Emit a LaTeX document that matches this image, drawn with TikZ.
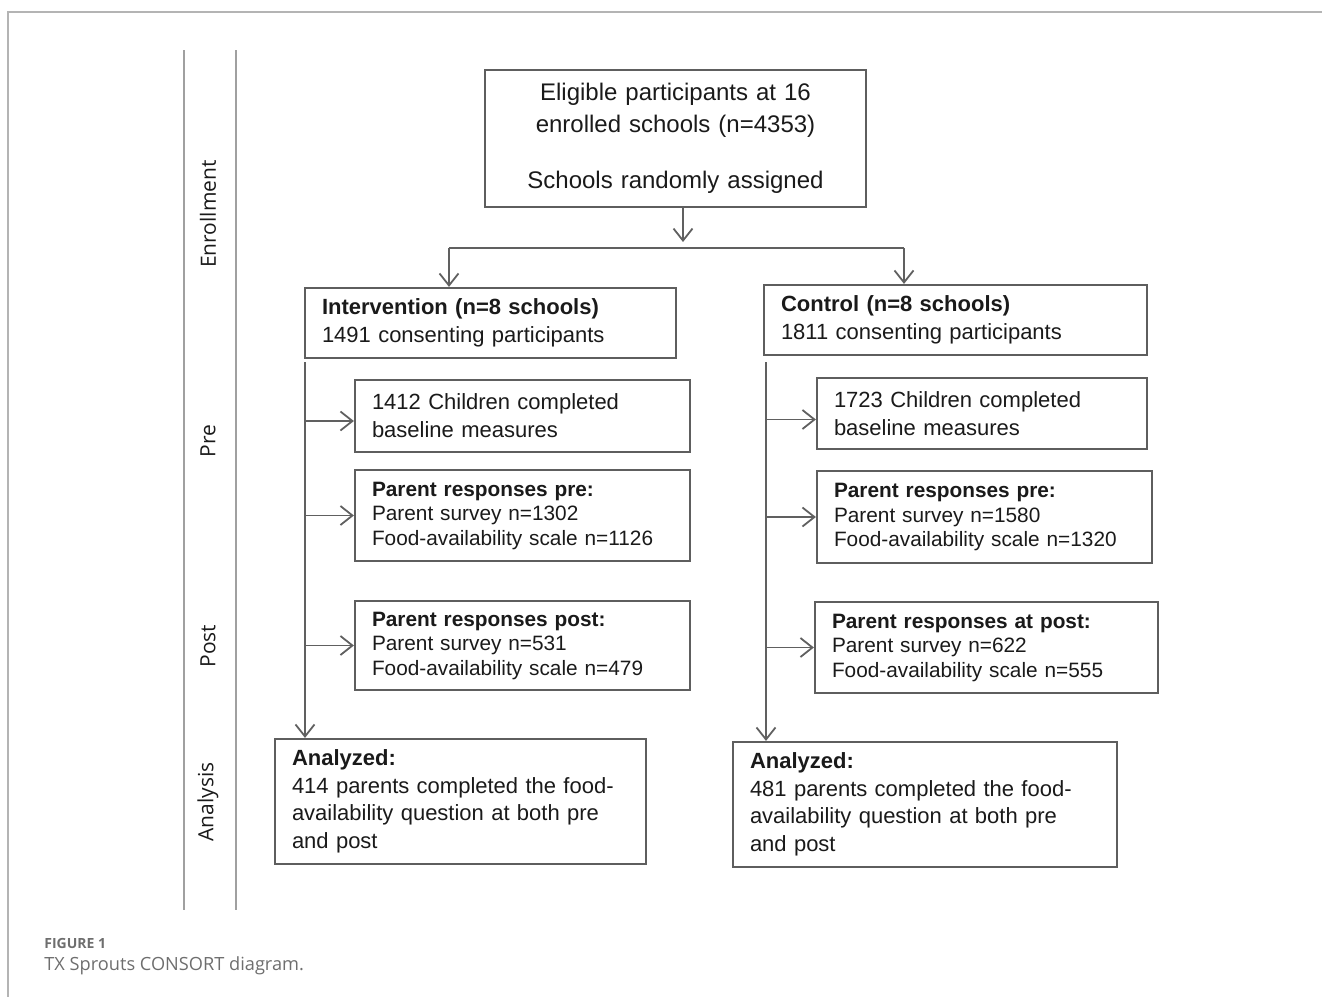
\documentclass[tikz,border=0pt]{standalone}
\usepackage{fontspec}
\setmainfont{Liberation Sans}
\newfontfamily\capfont{Open Sans}
\usetikzlibrary{arrows.meta}
\definecolor{boxgray}{HTML}{5E5E5E}
\definecolor{arrgray}{HTML}{606060}
\definecolor{phasegray}{HTML}{A0A0A0}
\definecolor{framegray}{HTML}{B4B4B4}
\definecolor{captiongray}{HTML}{6E6E6E}
\definecolor{txt}{HTML}{1A1A1A}
\tikzset{
  box/.style={draw=boxgray, line width=1.1pt, inner xsep=8.5pt, inner ysep=0pt, align=left, text=txt},
  arr/.style={draw=arrgray, line width=0.9pt, -{Straight Barb[length=6pt,width=9.5pt,line width=0.9pt]}},
  conn/.style={draw=arrgray, line width=0.9pt},
  phase/.style={rotate=90, font=\capfont\fontsize{10.5}{13}\selectfont, text=txt},
  phaseline/.style={draw=phasegray, line width=0.8pt},
  big/.style={font=\fontsize{11}{14}\selectfont},
  small/.style={font=\fontsize{10.4}{12.25}\selectfont},
}
\begin{document}
\begin{tikzpicture}[x=0.5pt,y=-0.5pt]
\useasboundingbox (0,0) rectangle (1322,997);
% frame
\draw[draw=framegray, line width=0.8pt] (1322,12) -- (8,12) -- (8,997);
% phase column
\draw[phaseline] (184,50) -- (184,910);
\draw[phaseline] (236,50) -- (236,910);
\node[phase] (penr) at (208,214) {Enrollment};
\node[phase] (ppre) at (208,441) {Pre};
\node[phase] (ppost) at (208,646) {Post};
\node[phase] (pana) at (208,802) {Analysis};

% top box
\node[box, align=center, text width=173.5pt, minimum height=68.5pt, font=\fontsize{12}{16}\selectfont] (top) at (675.5,138.5)
  {Eligible participants at 16\\ enrolled schools (n=4353)\\[12pt] Schools randomly assigned};

% arms
\node[box, big, text width=168.5pt, minimum height=35pt] (intv) at (490.5,323)
  {\textbf{Intervention (n=8 schools)}\\1491 consenting participants};
\node[box, big, text width=174.5pt, minimum height=35pt] (ctrl) at (955.5,320)
  {\textbf{Control (n=8 schools)}\\1811 consenting participants};

% left column
\node[box, big, text width=150.5pt, minimum height=36pt] (b1) at (522.5,416)
  {1412 Children completed\\baseline measures};
\node[box, small, text width=150.5pt, minimum height=45.5pt] (b2) at (522.5,515.5)
  {\textbf{Parent responses pre:}\\Parent survey n=1302\\Food-availability scale n=1126};
\node[box, small, text width=150.5pt, minimum height=44.5pt] (b3) at (522.5,645.5)
  {\textbf{Parent responses post:}\\Parent survey n=531\\Food-availability scale n=479};
\node[box, font=\fontsize{11}{13.75}\selectfont, text width=168.5pt, minimum height=62.5pt] (anaL) at (460.5,801.5)
  {\textbf{Analyzed:}\\414 parents completed the food-\\availability question at both pre\\and post};

% right column
\node[box, big, text width=148pt, minimum height=35.5pt] (b4) at (982,413.5)
  {1723 Children completed\\baseline measures};
\node[box, small, text width=150.5pt, minimum height=46pt] (b5) at (984.5,517)
  {\textbf{Parent responses pre:}\\Parent survey n=1580\\Food-availability scale n=1320};
\node[box, small, text width=154.5pt, minimum height=45.5pt] (b6) at (986.5,647.5)
  {\textbf{Parent responses at post:}\\Parent survey n=622\\Food-availability scale n=555};
\node[box, font=\fontsize{11}{13.75}\selectfont, text width=175pt, minimum height=62.5pt] (anaR) at (925,804.5)
  {\textbf{Analyzed:}\\481 parents completed the food-\\availability question at both pre\\and post};

% randomisation split
\coordinate (jM) at (683,248);
\coordinate (jL) at (449,248);
\coordinate (jR) at (904,248);
\draw[arr] (top.south -| jM) -- ([yshift=3pt]jM);
\draw[conn] (jL) -- (jR);
\draw[arr] (jL) -- (jL |- intv.north);
\draw[arr] (jR) -- (jR |- ctrl.north);

% intervention flow
\coordinate (vL) at (305,362);
\draw[arr] (vL) -- (vL |- anaL.north);
\draw[arr] (vL |- b1.west) ++(0,5) -- ([yshift=-2.5pt]b1.west);
\draw[arr] (vL |- b2.west) -- (b2.west);
\draw[arr] (vL |- b3.west) -- (b3.west);

% control flow
\coordinate (vR) at (766,362);
\draw[arr] (vR) -- (vR |- anaR.north);
\draw[arr] (vR |- b4.west) ++(0,6) -- ([yshift=-3pt]b4.west);
\draw[arr] (vR |- b5.west) -- (b5.west);
\draw[arr] (vR |- b6.west) -- (b6.west);

% caption
\node[anchor=west, inner sep=0pt, text=captiongray, font=\capfont\bfseries\fontsize{7}{8}\selectfont] (fig) at (44,943) {FIGURE 1};
\node[anchor=west, inner sep=0pt, text=captiongray, font=\capfont\fontsize{9.1}{11}\selectfont] (cap) at (44,966) {TX Sprouts CONSORT diagram.};
\end{tikzpicture}
\end{document}
